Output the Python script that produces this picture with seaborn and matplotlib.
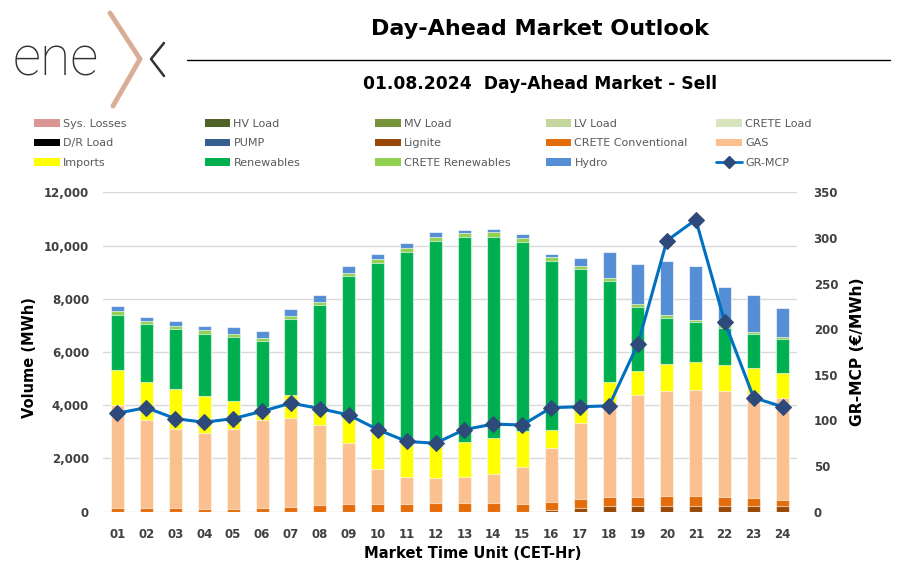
import numpy as np
import pandas as pd
import matplotlib
matplotlib.use('Agg')
import matplotlib.pyplot as plt
import seaborn as sns
from matplotlib.patches import Patch
from matplotlib.lines import Line2D
from matplotlib.ticker import FuncFormatter

hours = ['01', '02', '03', '04', '05', '06', '07', '08', '09', '10', '11', '12',
         '13', '14', '15', '16', '17', '18', '19', '20', '21', '22', '23', '24']

# sell side volumes (MWh) per market time unit
sys_losses = [0, 0, 0, 0, 0, 0, 0, 0, 0, 0, 0, 0, 0, 0, 0, 0, 0, 0, 0, 0, 0, 0, 0, 0]
hv_load = [0, 0, 0, 0, 0, 0, 0, 0, 0, 0, 0, 0, 0, 0, 0, 0, 0, 0, 0, 0, 0, 0, 0, 0]
mv_load = [0, 0, 0, 0, 0, 0, 0, 0, 0, 0, 0, 0, 0, 0, 0, 0, 0, 0, 0, 0, 0, 0, 0, 0]
lv_load = [0, 0, 0, 0, 0, 0, 0, 0, 0, 0, 0, 0, 0, 0, 0, 0, 0, 0, 0, 0, 0, 0, 0, 0]
crete_load = [0, 0, 0, 0, 0, 0, 0, 0, 0, 0, 0, 0, 0, 0, 0, 0, 0, 0, 0, 0, 0, 0, 0, 0]
dr_load = [0, 0, 0, 0, 0, 0, 0, 0, 0, 0, 0, 0, 0, 0, 0, 0, 0, 0, 0, 0, 0, 0, 0, 0]
pump = [0, 0, 0, 0, 0, 0, 0, 0, 0, 0, 0, 0, 0, 0, 0, 0, 0, 0, 0, 0, 0, 0, 0, 0]
lignite = [0, 0, 0, 0, 0, 0, 0, 0, 0, 0, 0, 0, 0, 0, 0, 60, 140, 210, 210, 210, 210, 210, 210, 200]
crete_conv = [150, 125, 125, 100, 100, 125, 160, 240, 275, 290, 290, 310,
              315, 315, 290, 300, 335, 340, 355, 380, 365, 340, 305, 250]
gas = [3860, 3330, 2970, 2860, 2990, 3330, 3370, 3020, 2300, 1310, 1020, 950,
       970, 1120, 1390, 2040, 2860, 3500, 3820, 3930, 4010, 3980, 3930, 3810]
imports = [1300, 1430, 1520, 1400, 1070, 460, 850, 690, 1050, 1470, 1330, 1340,
           1330, 1350, 1350, 660, 510, 840, 900, 1040, 1030, 980, 940, 940]
renewables = [2090, 2170, 2240, 2330, 2390, 2480, 2870, 3810, 5220, 6290, 7120, 7570,
              7690, 7540, 7100, 6360, 5260, 3780, 2420, 1730, 1500, 1380, 1280, 1270]
crete_ren = [140, 110, 140, 140, 140, 125, 110, 125, 125, 150, 160, 160,
             160, 175, 160, 150, 140, 110, 110, 100, 90, 100, 90, 75]
hydro = [190, 160, 160, 150, 260, 280, 260, 260, 250, 160, 160, 160,
         125, 125, 125, 125, 280, 990, 1480, 2030, 2020, 1465, 1390, 1110]

# GR market clearing price (EUR/MWh)
gr_mcp = [108, 114, 102, 98, 102, 110, 119, 113, 106, 90, 77, 75,
          90, 96, 95, 114, 115, 116, 184, 297, 320, 208, 125, 115]

series = {
    'Sys. Losses': (sys_losses, '#DA9694'),
    'HV Load': (hv_load, '#4F6228'),
    'MV Load': (mv_load, '#77933C'),
    'LV Load': (lv_load, '#C3D69B'),
    'CRETE Load': (crete_load, '#D7E4BD'),
    'D/R Load': (dr_load, '#000000'),
    'PUMP': (pump, '#376092'),
    'Lignite': (lignite, '#984807'),
    'CRETE Conventional': (crete_conv, '#E46C0A'),
    'GAS': (gas, '#FAC090'),
    'Imports': (imports, '#FFFF00'),
    'Renewables': (renewables, '#00B050'),
    'CRETE Renewables': (crete_ren, '#92D050'),
    'Hydro': (hydro, '#558ED5'),
}

df = pd.DataFrame({k: v[0] for k, v in series.items()}, index=hours)
cum = df.cumsum(axis=1)

sns.set_theme(style='white')
plt.rcParams['font.family'] = ['DejaVu Sans']

fig = plt.figure(figsize=(9.09, 5.72), dpi=100)
ax = fig.add_axes([103 / 909, 1 - 511.7 / 572, 694 / 909, 319.4 / 572])

# stacked bars: draw cumulative totals from the top layer down
for name in reversed(list(series.keys())):
    if df[name].sum() == 0:
        continue
    sns.barplot(x=hours, y=cum[name].values, color=series[name][1], width=0.45,
                saturation=1, errorbar=None, ax=ax,
                edgecolor=(1, 1, 1, 0.6), linewidth=0.8)

ax.set_xlim(-0.5, 23.5)
ax.set_ylim(0, 12000)
ax.set_yticks(range(0, 12001, 2000))
ax.yaxis.set_major_formatter(FuncFormatter(lambda v, p: f'{int(v):,}'))
ax.set_axisbelow(True)
ax.yaxis.grid(True, color='#D9D9D9', lw=1)
ax.xaxis.grid(False)
ax.set_xlabel('')
ax.set_ylabel('')
for s in ax.spines.values():
    s.set_visible(False)
ax.tick_params(axis='both', length=0, labelsize=8.5, labelcolor='#404040')
ax.tick_params(axis='x', pad=12)
ax.tick_params(axis='y', pad=10)
for lab in ax.get_xticklabels() + ax.get_yticklabels():
    lab.set_fontweight('bold')

ax2 = ax.twinx()
sns.lineplot(x=np.arange(len(hours)), y=gr_mcp, ax=ax2, color='#0070C0', lw=2.2,
             marker='D', markersize=8, markerfacecolor='#2E4A7B',
             markeredgecolor='#2E4A7B', sort=False, legend=False)
ax2.set_ylim(0, 350)
ax2.set_yticks(range(0, 351, 50))
ax2.set_ylabel('')
for s in ax2.spines.values():
    s.set_visible(False)
ax2.tick_params(axis='y', length=0, labelsize=8.5, labelcolor='#404040', pad=12)
for lab in ax2.get_yticklabels():
    lab.set_fontweight('bold')
ax2.grid(False)

# axis titles
fig.text(30 / 909, 1 - 358 / 572, 'Volume (MWh)', rotation=90, ha='center', va='center',
         fontsize=10.5, fontweight='bold', color='black')
fig.text(858 / 909, 1 - 352 / 572, 'GR-MCP (€/MWh)', rotation=90, ha='center', va='center',
         fontsize=11.2, fontweight='bold', color='black')
fig.text(473 / 909, 1 - 553 / 572, 'Market Time Unit (CET-Hr)', ha='center', va='center',
         fontsize=10.6, fontweight='bold', color='black')

# header
fig.text(540 / 909, 1 - 29 / 572, 'Day-Ahead Market Outlook', ha='center', va='center',
         fontsize=16, fontweight='bold', color='black')
fig.add_artist(Line2D([187 / 909, 890 / 909], [1 - 60 / 572, 1 - 60 / 572],
                      color='black', lw=1))
fig.text(540 / 909, 1 - 84 / 572, '01.08.2024  Day-Ahead Market - Sell', ha='center',
         va='center', fontsize=12.3, fontweight='bold', color='black')

# logo
fig.text(13 / 909, 1 - 60 / 572, 'ene', ha='left', va='center', fontsize=40,
         family=['Roboto', 'DejaVu Sans'], fontweight='light', color='#333333')
fig.add_artist(Line2D([110 / 909, 140 / 909, 113 / 909],
                      [1 - 13 / 572, 1 - 59 / 572, 1 - 106 / 572],
                      color='#D9AE97', lw=3.5, solid_joinstyle='miter'))
fig.add_artist(Line2D([164 / 909, 151 / 909, 164 / 909],
                      [1 - 43 / 572, 1 - 59 / 572, 1 - 76 / 572],
                      color='#333333', lw=1.8))

# legend: 5 columns, filled row by row
handles = []
for name, (vals, col) in series.items():
    handles.append(Patch(facecolor=col, edgecolor='none', label=name))
handles.append(Line2D([], [], color='#0070C0', lw=2, marker='D', markersize=6,
                      markerfacecolor='#2E4A7B', markeredgecolor='#2E4A7B', label='GR-MCP'))
for i in range(5):
    leg = fig.legend(handles=handles[i::5], loc='upper left',
                     bbox_to_anchor=((34 + 170.5 * i) / 909, 1 - 119 / 572),
                     frameon=False, fontsize=8, handlelength=2.3, handleheight=0.65,
                     handletextpad=0.3, labelspacing=0.85, borderpad=0, borderaxespad=0)
    for t in leg.get_texts():
        t.set_color('#595959')

fig.savefig('out.png', dpi=100)
